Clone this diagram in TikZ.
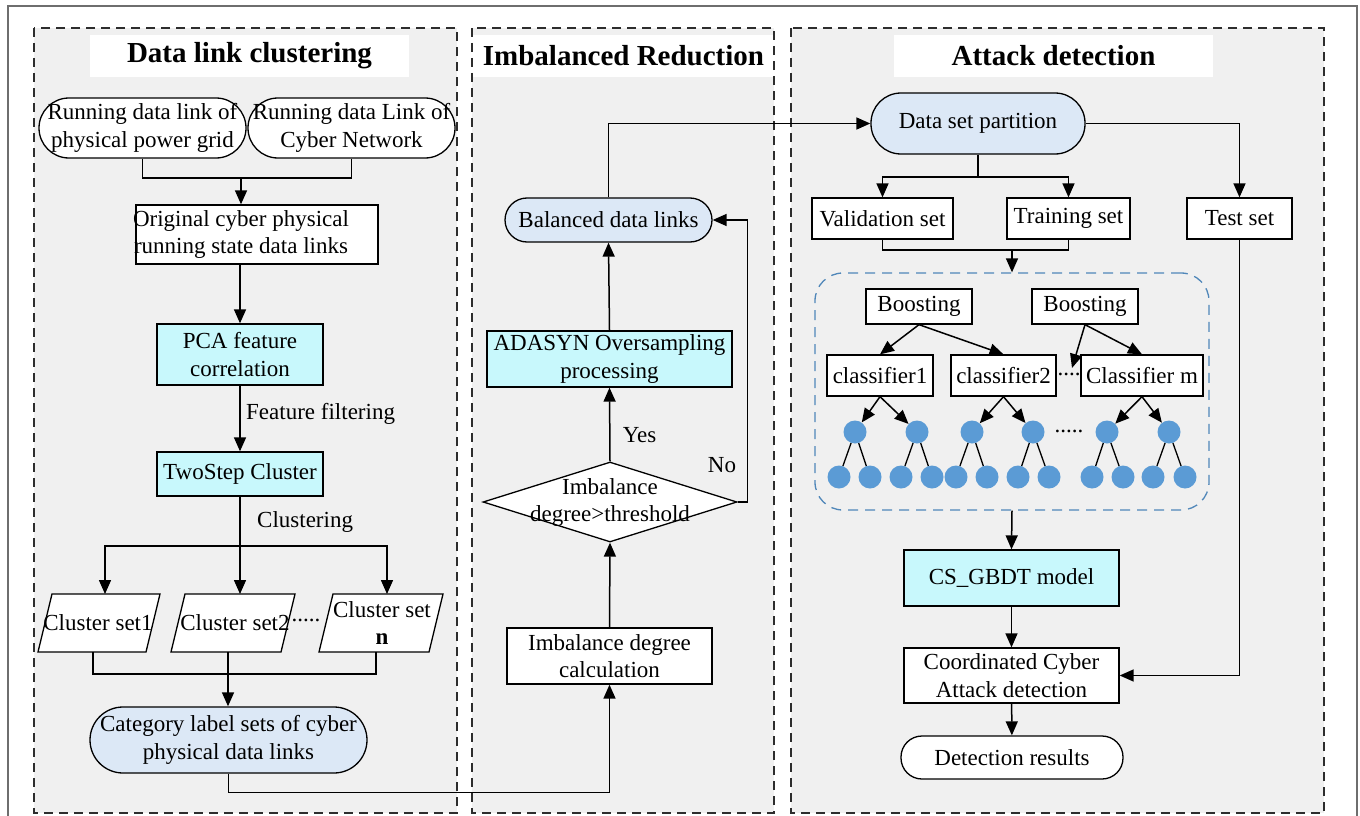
\documentclass[tikz,border=0pt]{standalone}
\usepackage{fontspec}
\setmainfont{Liberation Serif}
\usetikzlibrary{arrows.meta,shapes.geometric}
\definecolor{panelgray}{RGB}{240,240,240}
\definecolor{cyanfill}{RGB}{200,248,252}
\definecolor{pillblue}{RGB}{220,232,246}
\definecolor{dotblue}{RGB}{91,155,213}
\definecolor{ensblue}{RGB}{80,135,185}
\definecolor{framegray}{RGB}{110,110,110}
\definecolor{dashgray}{RGB}{45,45,45}
\begin{document}
\begin{tikzpicture}[x=1pt,y=-1pt,
  every node/.style={font=\fontsize{23}{27.5}\selectfont, inner sep=0pt, align=center},
  plainbox/.style={draw, line width=1.3pt, fill=white},
  cyanbox/.style={plainbox, fill=cyanfill},
  pill/.style={draw, line width=1.3pt, fill=#1},
  titlebox/.style={fill=white, font=\fontsize{29}{33}\selectfont\bfseries},
  paneldash/.style={draw=dashgray, line width=1.6pt, dash pattern=on 9pt off 6pt},
  ln/.style={line width=1.5pt},
  arr/.style={line width=1.5pt, -{Triangle[length=14pt,width=12pt]}},
  circ/.style={circle, fill=dotblue, minimum size=23pt},
  para/.style={draw, line width=1.3pt, fill=white}
]
\useasboundingbox (0,0) rectangle (1360,816);
% outer frame
\draw[framegray, line width=1.2pt] (8,816) -- (8,6) -- (1357,6) -- (1357,816);
% panels
\fill[panelgray] (34,28) rectangle (457,813);
\fill[panelgray] (472,28) rectangle (774,813);
\fill[panelgray] (791,28) rectangle (1324,813);
\node[titlebox, minimum width=319pt, minimum height=42pt] (t1) at (249.5,56) {Data link clustering};
\node[titlebox, minimum width=303pt, minimum height=42pt] (t2) at (623.5,56) {Imbalanced Reduction};
\node[titlebox, minimum width=319pt, minimum height=42pt] (t3) at (1053.5,56) {Attack detection};
\draw[paneldash] (34,28) rectangle (457,813);
\draw[paneldash] (472,28) rectangle (774,813);
\draw[paneldash] (791,28) rectangle (1324,813);

% ---------- Panel 1 ----------
\node[pill=white, rounded corners=30pt, minimum width=207pt, minimum height=60pt] (run1) at (142.5,128) {Running data link of\\physical power grid};
\node[pill=white, rounded corners=30pt, minimum width=207pt, minimum height=60pt] (run2) at (351.5,128) {Running data Link of\\Cyber Network};
\node[plainbox, minimum width=242pt, minimum height=59pt] (orig) at (257,234.5) {};
\node (origtxt) at (241,234.5) {Original cyber physical\\running state data links};
\node[cyanbox, minimum width=166pt, minimum height=61pt] (pca) at (240,354.5) {PCA feature\\correlation};
\node[cyanbox, minimum width=166pt, minimum height=44pt] (two) at (240,474) {TwoStep Cluster};
\node[anchor=west] (fflab) at (246,414) {Feature filtering};
\node[anchor=west] (cllab) at (257,522) {Clustering};

\draw[para] (52,594) -- (160,594) -- (146,652) -- (38,652) -- cycle;
\draw[para] (185,594) -- (295,594) -- (281,652) -- (171,652) -- cycle;
\draw[para] (333,594) -- (443,594) -- (429,652) -- (319,652) -- cycle;
\node (cl1) at (98,623) {Cluster set1};
\node (cl2) at (235,623) {Cluster set2};
\node (cln) at (382,623) {Cluster set\\\textbf{n}};
\node (dots1) at (306,620) {.....};
\node[pill=pillblue, rounded corners=33pt, minimum width=277pt, minimum height=66pt] (cat) at (228.5,740) {Category label sets of cyber\\physical data links};

\coordinate (j1) at (241,178);
\draw[ln] (run1.south) |- (j1) -| (run2.south);
\draw[arr] (j1) -- (orig.north -| j1);
\draw[arr] (orig.south -| pca) -- (pca.north);
\draw[arr] (pca) -- (two);
\coordinate (j2) at (240,546);
\coordinate (cs1top) at (105,594);
\coordinate (cs2top) at (240,594);
\coordinate (csntop) at (387,594);
\draw[ln] (two.south) -- (j2);
\draw[arr] (j2) -| (cs1top);
\draw[arr] (j2) -- (cs2top);
\draw[arr] (j2) -| (csntop);
\coordinate (cs1bot) at (93,652);
\coordinate (cs2bot) at (228,652);
\coordinate (csnbot) at (376,652);
\coordinate (j3) at (228,674);
\draw[ln] (cs1bot) |- (j3) -| (csnbot);
\draw[ln] (cs2bot) -- (j3);
\draw[arr] (j3) -- (cat.north -| j3);

% ---------- Panel 2 ----------
\node[pill=pillblue, rounded corners=22pt, minimum width=207pt, minimum height=44pt] (bal) at (608.5,220) {Balanced data links};
\node[cyanbox, minimum width=245pt, minimum height=56pt] (ada) at (609.5,359) {ADASYN Oversampling\\processing};
\node[diamond, draw, line width=1.3pt, fill=white, minimum width=254pt, minimum height=80pt] (dia) at (610,502) {};
\node (diatxt) at (610,502.5) {Imbalance\\degree>threshold};
\node[plainbox, minimum width=205pt, minimum height=56pt] (imb) at (609.5,656) {Imbalance degree\\calculation};
\node (yes) at (639.5,435) {Yes};
\node (no) at (722,465) {No};

\draw[arr] (cat.south) -- ++(0,19) -| (imb.south);
\draw[arr] (imb.north) -- (dia.south);
\draw[arr] (dia.north) -- (ada.south);
\draw[arr] (ada.north) -- (bal.south);
\draw[arr] (dia.east) -- ++(10,0) |- (bal.east);

% ---------- Panel 3 ----------
\node[pill=pillblue, rounded corners=30pt, minimum width=214pt, minimum height=61pt] (dsp) at (978,123.5) {Data set partition};
\node[plainbox, minimum width=141pt, minimum height=41pt] (val) at (882.5,218.5) {Validation set};
\node[plainbox, minimum width=123pt, minimum height=41pt] (train) at (1068.5,218.5) {Training set};
\node[plainbox, minimum width=105pt, minimum height=41pt] (test) at (1239.5,218.5) {Test set};

\draw[arr] (bal.north) |- (dsp.west);
\coordinate (j4) at (978,177);
\draw[ln] (dsp.south) -- (j4);
\draw[arr] (j4) -| (val.north);
\draw[arr] (j4) -| (train.north);
\draw[arr] (dsp.east) -| (test.north);

\node[draw=ensblue, line width=1.3pt, dash pattern=on 10pt off 7pt, rounded corners=28pt, minimum width=394pt, minimum height=237pt] (ens) at (1012,391.5) {};
\coordinate (j5) at (1012,250);
\draw[ln] (val.south) |- (j5) -| (train.south);
\draw[arr] (j5) -- (ens.north);

\node[plainbox, minimum width=106pt, minimum height=35pt] (b1) at (919,306.5) {Boosting};
\node[plainbox, minimum width=106pt, minimum height=35pt] (b2) at (1085,306.5) {Boosting};
\node[plainbox, minimum width=106pt, minimum height=41pt] (c1) at (880,375.5) {classifier1};
\node[plainbox, minimum width=105pt, minimum height=41pt] (c2) at (1003.5,375.5) {classifier2};
\node[plainbox, minimum width=122pt, minimum height=41pt] (cm) at (1142,375.5) {Classifier m};
\node (dots2) at (1069,374) {....};
\coordinate (b2tip) at (1072,368);
\draw[arr] (b1.south) -- (c1.north);
\draw[arr] (b1.south) -- (c2.north);
\draw[arr] (b2.south) -- (b2tip);
\draw[arr] (b2.south) -- (cm.north);

% trees
\foreach \nm/\x in {a/855, b/917, c/972, d/1033, e/1107, f/1169}
  \node[circ] (n\nm) at (\x,432) {};
\foreach \nm/\x in {a1/839, a2/870, b1/901, b2/932, c1/956, c2/987, d1/1018, d2/1049, e1/1092, e2/1123, f1/1153, f2/1185}
  \node[circ] (m\nm) at (\x,477) {};
\foreach \p in {a,b,c,d,e,f}{
  \draw[line width=1.3pt] (n\p) -- (m\p1);
  \draw[line width=1.3pt] (n\p) -- (m\p2);
}
\draw[arr] (c1.south) -- (na);
\draw[arr] (c1.south) -- (nb);
\draw[arr] (c2.south) -- (nc);
\draw[arr] (c2.south) -- (nd);
\draw[arr] (cm.south) -- (ne);
\draw[arr] (cm.south) -- (nf);
\node (dots3) at (1069,431) {.....};

\node[cyanbox, minimum width=215pt, minimum height=56pt] (cs) at (1011.5,578) {CS\_GBDT model};
\node[plainbox, minimum width=215pt, minimum height=55pt] (coord) at (1011.5,675.5) {Coordinated Cyber\\Attack detection};
\node[pill=white, rounded corners=21pt, minimum width=222pt, minimum height=43pt] (det) at (1012,757.5) {Detection results};

\draw[arr] (ens.south) -- (cs.north);
\draw[arr] (cs) -- (coord);
\draw[arr] (coord) -- (det);
\draw[arr] (test.south) |- (coord.east);
\end{tikzpicture}
\end{document}
